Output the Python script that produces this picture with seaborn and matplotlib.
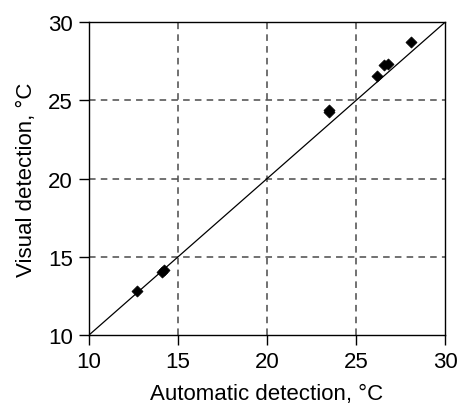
import matplotlib
matplotlib.use("Agg")
import matplotlib.pyplot as plt
import seaborn as sns
import pandas as pd

automatic = [12.7, 14.1, 14.2, 23.5, 23.5, 26.2, 26.55, 26.8, 28.1]
visual = [12.8, 14.05, 14.15, 24.4, 24.25, 26.55, 27.25, 27.35, 28.75]
ref_line = [10, 30]
ticks = [10, 15, 20, 25, 30]

sns.set_theme(style="white")
plt.rcParams['font.family'] = ['Liberation Sans', 'DejaVu Sans']

fig = plt.figure(figsize=(4.58, 4.06), dpi=100)
ax = fig.add_axes([0.194, 0.172, 0.778, 0.771])

df = pd.DataFrame({"a": automatic, "v": visual})
sns.lineplot(x=ref_line, y=ref_line, ax=ax, color="black", linewidth=0.9)
sns.scatterplot(data=df, x="a", y="v", ax=ax, marker="D", s=32, color="black",
                edgecolor="black", linewidth=0.5, zorder=5)

for t in ticks[1:-1]:
    ax.axvline(t, color="#4a4a4a", linestyle=(0, (4.3, 3.4)), linewidth=1.1, zorder=0)
    ax.axhline(t, color="#4a4a4a", linestyle=(0, (4.3, 3.4)), linewidth=1.1, zorder=0)

ax.set_xlim(10, 30)
ax.set_ylim(10, 30)
ax.set_xticks(ticks)
ax.set_yticks(ticks)
for s in ax.spines.values():
    s.set_color("black")
    s.set_linewidth(1.0)
ax.tick_params(axis="both", direction="out", length=7.5, width=1.0, color="black",
               labelsize=16, labelcolor="black", left=True, bottom=True, pad=4)
ax.set_xlabel("Automatic detection, °C", fontsize=16, color="black", labelpad=8)
ax.set_ylabel("Visual detection, °C", fontsize=16, color="black", labelpad=8)

fig.savefig("out.png", dpi=100)
